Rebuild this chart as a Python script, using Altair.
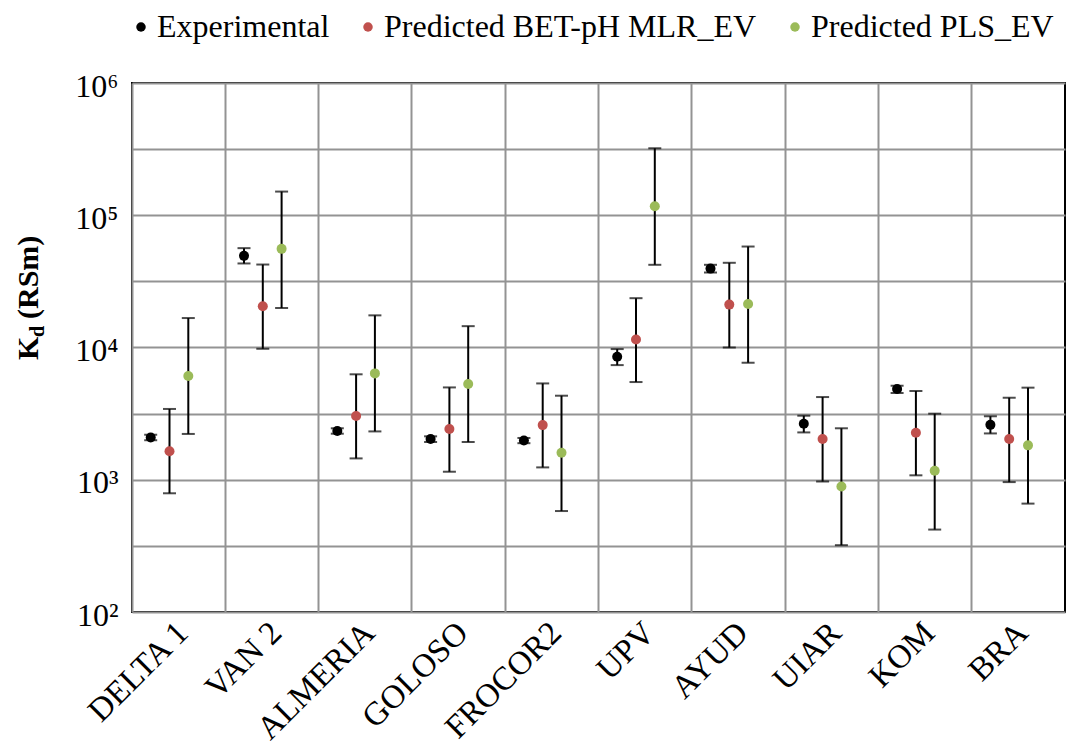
import altair as alt
import pandas as pd

# Sampling sites along the x axis
sites = ["DELTA 1", "VAN 2", "ALMERIA", "GOLOSO", "FROCOR2",
         "UPV", "AYUD", "UIAR", "KOM", "BRA"]

series_names = ["Experimental", "Predicted BET-pH MLR_EV", "Predicted PLS_EV"]
series_colors = ["#000000", "#C0504D", "#9BBB59"]

# Kd values (RSm) with lower / upper error limits, per site
exp_kd = [2090, 49300, 2340, 2030, 1980, 8510, 39500, 2650, 4850, 2600]
exp_lo = [1990, 43200, 2230, 1930, 1890, 7360, 36900, 2280, 4530, 2240]
exp_hi = [2190, 56400, 2450, 2130, 2070, 9730, 42200, 3050, 5140, 3020]

mlr_kd = [1640, 20500, 3030, 2420, 2590, 11500, 21100, 2030, 2270, 2030]
mlr_lo = [790, 9780, 1450, 1150, 1240, 5480, 10000, 970, 1080, 960]
mlr_hi = [3430, 42400, 6270, 4990, 5350, 23600, 43700, 4220, 4690, 4170]

pls_kd = [6090, 55700, 6370, 5300, 1600, 117000, 21300, 890, 1170, 1820]
pls_lo = [2220, 19900, 2320, 1930, 580, 42200, 7670, 320, 420, 660]
pls_hi = [16700, 151000, 17500, 14500, 4320, 321000, 58000, 2450, 3160, 4970]

# y axis: grid every half decade, labels on decades only
y_grid_values = [100, 316.23, 1000, 3162.3, 10000, 31623, 100000, 316228, 1000000]
y_decades = [100, 1000, 10000, 100000, 1000000]
y_decade_labels = ["10²", "10³", "10⁴", "10⁵", "10⁶"]

rows = []
for name, kd, lo, hi in zip(series_names,
                            [exp_kd, mlr_kd, pls_kd],
                            [exp_lo, mlr_lo, pls_lo],
                            [exp_hi, mlr_hi, pls_hi]):
    for s, v, l, h in zip(sites, kd, lo, hi):
        rows.append({"site": s, "series": name, "kd": v, "lo": l, "hi": h})
df = pd.DataFrame(rows)

label_expr = " : ".join(
    f"datum.value == {v} ? '{t}'" for v, t in zip(y_decades, y_decade_labels)
) + " : ''"

FONT = "Liberation Serif"

x_enc = alt.X(
    "site:N", sort=sites,
    scale=alt.Scale(paddingInner=0, paddingOuter=0),
    axis=alt.Axis(title=None, labelAngle=-45, labelAlign="right",
                  labelBaseline="top", labelFont=FONT, labelFontSize=33,
                  labelColor="black", labelPadding=4, labelOffset=-7,
                  labelLimit=0, ticks=False, domain=False, grid=True,
                  bandPosition=0, gridColor="#939393", gridWidth=2),
)
xoff_enc = alt.XOffset(
    "series:N",
    scale=alt.Scale(domain=series_names, range=[9.3, 65.7],
                    paddingInner=0, paddingOuter=0),
)
y_scale = alt.Scale(type="log", domain=[100, 1000000], nice=False)
y_axis = alt.Axis(title=None, values=y_grid_values, labelExpr=label_expr,
                  labelFont=FONT, labelFontSize=32, labelColor="black",
                  labelPadding=14, labelOffset=3, ticks=False, domain=False,
                  grid=True, gridColor="#939393", gridWidth=2)

base = alt.Chart(df).encode(x=x_enc, xOffset=xoff_enc)

bars = base.mark_rule(color="black", strokeWidth=2).encode(
    y=alt.Y("lo:Q", scale=y_scale, axis=y_axis),
    y2="hi:Q",
)

caps = base.transform_fold(["lo", "hi"], as_=["end", "val"]).mark_tick(
    color="black", orient="horizontal", size=13, thickness=2
).encode(y=alt.Y("val:Q", scale=y_scale))

points = base.mark_circle(size=100, opacity=1).encode(
    y=alt.Y("kd:Q", scale=y_scale),
    color=alt.Color(
        "series:N",
        scale=alt.Scale(domain=series_names, range=series_colors),
        legend=alt.Legend(
            title=None, orient="none", legendX=-7, legendY=-72,
            direction="horizontal", symbolType="circle", symbolSize=90,
            symbolStrokeWidth=0, labelFont=FONT, labelFontSize=32,
            labelColor="black", labelOffset=0, labelLimit=0,
            columnPadding=22, padding=0,
        ),
    ),
)

# y axis title: K with subscript d, followed by the unit
one = pd.DataFrame({"t": [""]})
title_k = alt.Chart(one).mark_text(
    text="K", angle=270, align="left", baseline="alphabetic",
    font=FONT, fontSize=30, fontWeight="bold", color="black",
).encode(x=alt.value(-94), y=alt.value(277))
title_d = alt.Chart(one).mark_text(
    text="d", angle=270, align="left", baseline="alphabetic",
    font=FONT, fontSize=20, fontWeight="bold", color="black",
).encode(x=alt.value(-88), y=alt.value(254))
title_unit = alt.Chart(one).mark_text(
    text="(RSm)", angle=270, align="left", baseline="alphabetic",
    font=FONT, fontSize=30, fontWeight="bold", color="black",
).encode(x=alt.value(-94), y=alt.value(236))

chart = alt.layer(bars, caps, points, title_k, title_d, title_unit).properties(
    width=933, height=529,
    autosize=alt.AutoSizeParams(type="none"),
    padding={"left": 132, "top": 83, "right": 5, "bottom": 137},
    background="white",
).configure_view(stroke="black", strokeWidth=2)

chart.save("out.html", embed_options={"renderer": "svg", "actions": False})
